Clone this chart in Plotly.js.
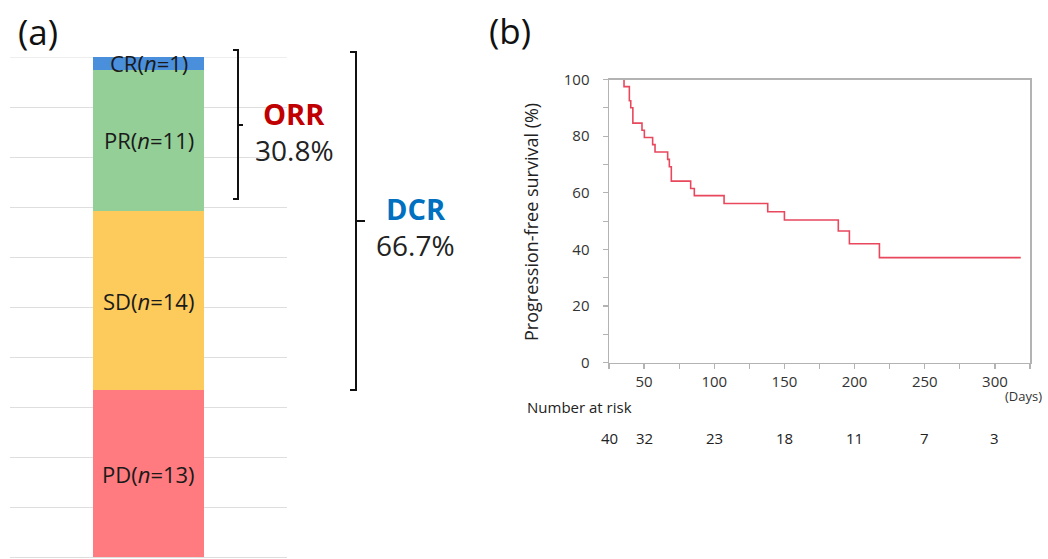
<!DOCTYPE html>
<html>
<head>
<meta charset="utf-8">
<script src="https://cdn.plot.ly/plotly-3.0.1.min.js"></script>
<style>html,body{margin:0;padding:0;background:#fff;}#chart{width:1048px;height:559px;}</style>
</head>
<body>
<div id="chart"></div>
<script>
// ---- Data: panel (a) best response (stacked bottom -> top) ----
const respCats = ['PD', 'SD', 'PR', 'CR'];
const respN = [13, 14, 11, 1];
const respColors = ['#ff7b7f', '#fdca5c', '#93cf96', '#4a8fdc'];
const ORR_TEXT = '30.8%';
const DCR_TEXT = '66.7%';

// ---- Data: panel (b) Kaplan-Meier PFS ----
const kmDays = [35.7, 35.7, 39.5, 40.5, 42, 48.5, 50.2, 56.1, 57.8, 66.8, 68, 69.4, 83.2, 85.8, 107, 138.1, 150, 188.4, 196.3, 217.7, 318.4];
const kmSurv = [100, 97.5, 92.5, 90, 84.6, 82.1, 79.5, 77, 74.4, 71.8, 69.2, 64.1, 61.5, 59, 56.2, 53.3, 50.4, 46.5, 42, 37.1, 37.1];
const riskDays = [25, 50, 100, 150, 200, 250, 300];
const riskN = [40, 32, 23, 18, 11, 7, 3];

const W = 1048, H = 559;
const fx = p => p / W;
const fy = p => 1 - p / H;
const FONT = 'Open Sans, Noto Sans, sans-serif';
const total = respN.reduce((a, b) => a + b, 0);
const pct = respN.map(n => n / total * 100);

const traces = [];
respCats.forEach((c, i) => {
  traces.push({
    type: 'bar', x: ['Response'], y: [pct[i]], name: c,
    marker: {color: respColors[i], line: {width: 0}},
    width: 1.0, xaxis: 'x', yaxis: 'y', hoverinfo: 'skip', showlegend: false
  });
});
traces.push({
  type: 'scatter', mode: 'lines', x: kmDays, y: kmSurv,
  line: {shape: 'hv', color: '#e8475c', width: 1.6},
  xaxis: 'x2', yaxis: 'y2', hoverinfo: 'skip', showlegend: false
});

const annotations = [];
let cum = 0;
respCats.forEach((c, i) => {
  const mid = cum + pct[i] / 2;
  cum += pct[i];
  annotations.push({
    xref: 'x', yref: 'y', x: 'Response', y: mid,
    text: c + '(<i>n</i>=' + respN[i] + ')', showarrow: false,
    font: {family: FONT, size: 22, color: '#1a1a1a'}, xanchor: 'center', yanchor: 'middle'
  });
});
annotations.push({xref: 'paper', yref: 'paper', x: fx(294), y: fy(113), text: '<b>ORR</b>', showarrow: false,
  font: {family: FONT, size: 29, color: '#c00000'}, xanchor: 'center', yanchor: 'middle'});
annotations.push({xref: 'paper', yref: 'paper', x: fx(294), y: fy(150), text: ORR_TEXT, showarrow: false,
  font: {family: FONT, size: 28, color: '#222'}, xanchor: 'center', yanchor: 'middle'});
annotations.push({xref: 'paper', yref: 'paper', x: fx(416), y: fy(208), text: '<b>DCR</b>', showarrow: false,
  font: {family: FONT, size: 29, color: '#0070c0'}, xanchor: 'center', yanchor: 'middle'});
annotations.push({xref: 'paper', yref: 'paper', x: fx(415), y: fy(245), text: DCR_TEXT, showarrow: false,
  font: {family: FONT, size: 28, color: '#222'}, xanchor: 'center', yanchor: 'middle'});
annotations.push({xref: 'paper', yref: 'paper', x: fx(38), y: fy(31), text: '(a)', showarrow: false,
  font: {family: FONT, size: 35, color: '#111'}, xanchor: 'center', yanchor: 'middle'});
annotations.push({xref: 'paper', yref: 'paper', x: fx(510), y: fy(30), text: '(b)', showarrow: false,
  font: {family: FONT, size: 35, color: '#111'}, xanchor: 'center', yanchor: 'middle'});
annotations.push({xref: 'paper', yref: 'paper', x: fx(531), y: fy(222), text: 'Progression-free survival (%)', showarrow: false,
  textangle: -90, font: {family: FONT, size: 18, color: '#222'}, xanchor: 'center', yanchor: 'middle'});
annotations.push({xref: 'paper', yref: 'paper', x: fx(1044), y: fy(396), text: '(Days)', showarrow: false,
  font: {family: FONT, size: 13, color: '#333'}, xanchor: 'right', yanchor: 'middle'});
annotations.push({xref: 'paper', yref: 'paper', x: fx(525), y: fy(407), text: 'Number at risk', showarrow: false,
  font: {family: FONT, size: 15, color: '#222'}, xanchor: 'left', yanchor: 'middle'});
riskDays.forEach((d, i) => {
  annotations.push({xref: 'x2', yref: 'paper', x: d, y: fy(438), text: String(riskN[i]), showarrow: false,
    font: {family: FONT, size: 15, color: '#222'}, xanchor: 'center', yanchor: 'middle'});
});

const br = (x, y0, y1, ym, serif, nub) =>
  `M ${fx(x - serif)} ${fy(y0)} L ${fx(x)} ${fy(y0)} L ${fx(x)} ${fy(y1)} L ${fx(x - serif)} ${fy(y1)} M ${fx(x)} ${fy(ym)} L ${fx(x + nub)} ${fy(ym)}`;
const shapes = [
  {type: 'line', xref: 'x domain', yref: 'y', x0: 0, x1: 1, y0: 100, y1: 100, layer: 'below',
    line: {color: '#dedede', width: 1}},
  {type: 'path', xref: 'paper', yref: 'paper', path: br(238, 50, 199, 125, 5, 5), line: {color: '#111', width: 2}},
  {type: 'path', xref: 'paper', yref: 'paper', path: br(356, 52, 390, 221, 6, 9), line: {color: '#111', width: 2}}
];

const axColor = '#b3b3b3';
const layout = {
  width: W, height: H, margin: {l: 0, r: 0, t: 0, b: 0},
  paper_bgcolor: '#fff', plot_bgcolor: 'rgba(0,0,0,0)',
  barmode: 'stack', bargap: 0, showlegend: false,
  font: {family: FONT, color: '#333'},
  xaxis: {domain: [fx(10), fx(287)], type: 'category', range: [-1.25, 1.25], showticklabels: false,
    showgrid: false, zeroline: false, showline: false, ticks: '', fixedrange: true},
  yaxis: {domain: [fy(557), fy(57)], range: [0, 100], dtick: 10, tick0: 0, showticklabels: false,
    showgrid: true, gridcolor: '#dedede', gridwidth: 1, zeroline: true, zerolinecolor: '#dedede', zerolinewidth: 1,
    showline: false, ticks: '', fixedrange: true},
  xaxis2: {domain: [fx(609), fx(1030)], anchor: 'y2', range: [25, 325], tick0: 0, dtick: 50,
    ticks: 'outside', ticklen: 5, tickcolor: axColor, tickwidth: 1.2,
    minor: {tick0: 0, dtick: 25, ticks: 'outside', ticklen: 5, tickcolor: axColor, tickwidth: 1.2, showgrid: false},
    showline: true, linecolor: axColor, linewidth: 1.5, mirror: true, showgrid: false, zeroline: false,
    tickfont: {family: FONT, size: 15, color: '#333'}, fixedrange: true},
  yaxis2: {domain: [fy(362.7), fy(79.5)], anchor: 'x2', range: [0, 100], tick0: 0, dtick: 20,
    ticks: 'outside', ticklen: 5, tickcolor: axColor, tickwidth: 1.2,
    minor: {tick0: 0, dtick: 10, ticks: 'outside', ticklen: 5, tickcolor: axColor, tickwidth: 1.2, showgrid: false},
    showline: true, linecolor: axColor, linewidth: 1.5, mirror: true, showgrid: false, zeroline: false,
    ticklabelstandoff: 10,
    tickfont: {family: FONT, size: 15, color: '#333'}, fixedrange: true},
  annotations: annotations,
  shapes: shapes
};

Plotly.newPlot('chart', traces, layout, {displayModeBar: false, staticPlot: true});
</script>
</body>
</html>
